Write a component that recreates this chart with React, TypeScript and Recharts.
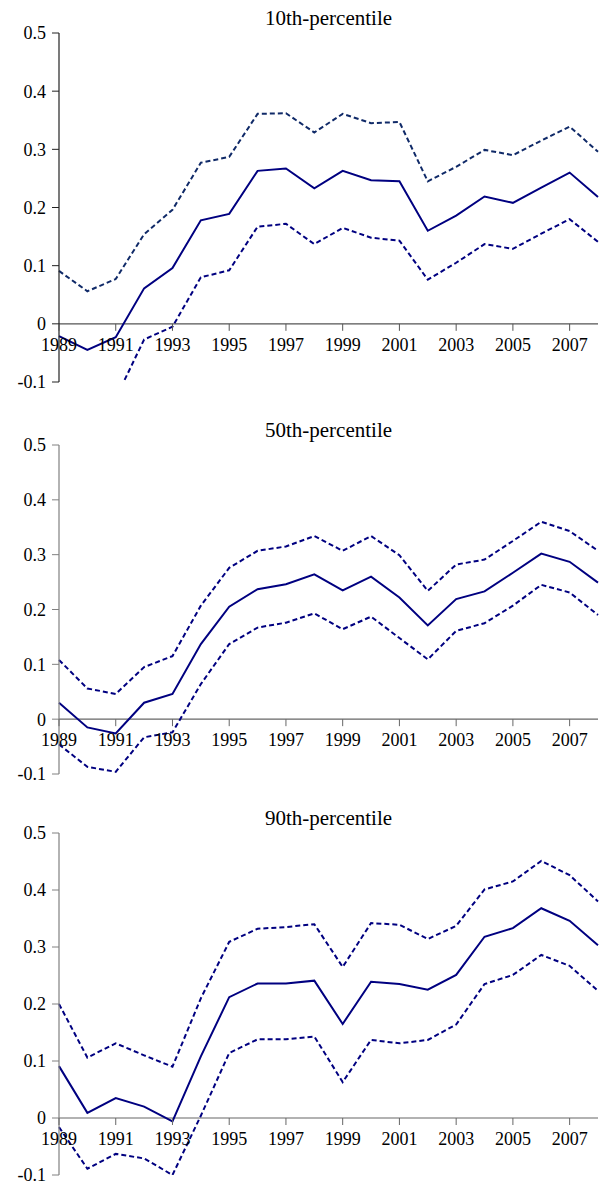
import { LineChart, Line, XAxis, YAxis, ReferenceLine, ReferenceDot } from 'recharts'

const years = [1989, 1990, 1991, 1992, 1993, 1994, 1995, 1996, 1997, 1998, 1999, 2000, 2001, 2002, 2003, 2004, 2005, 2006, 2007, 2008]
const yearTicks = [1989, 1991, 1993, 1995, 1997, 1999, 2001, 2003, 2005, 2007]
const valueTicks = [-0.1, 0, 0.1, 0.2, 0.3, 0.4, 0.5]
const titles = ['10th-percentile', '50th-percentile', '90th-percentile']

// 10th percentile
const p10Est = [-0.021, -0.045, -0.023, 0.061, 0.096, 0.178, 0.189, 0.263, 0.267, 0.233, 0.263, 0.247, 0.245, 0.16, 0.186, 0.219, 0.208, 0.234, 0.26, 0.218]
const p10Hi = [0.091, 0.056, 0.077, 0.154, 0.196, 0.277, 0.287, 0.361, 0.362, 0.329, 0.361, 0.345, 0.347, 0.245, 0.27, 0.299, 0.29, 0.315, 0.339, 0.296]
const p10Lo = [-0.133, -0.146, -0.128, -0.027, -0.005, 0.08, 0.092, 0.167, 0.172, 0.137, 0.165, 0.148, 0.143, 0.076, 0.105, 0.137, 0.129, 0.155, 0.18, 0.141]

// 50th percentile
const p50Est = [0.03, -0.015, -0.026, 0.03, 0.046, 0.137, 0.205, 0.237, 0.246, 0.264, 0.235, 0.26, 0.222, 0.171, 0.219, 0.233, 0.267, 0.302, 0.287, 0.249]
const p50Hi = [0.108, 0.056, 0.046, 0.095, 0.115, 0.207, 0.276, 0.307, 0.315, 0.334, 0.307, 0.334, 0.299, 0.234, 0.282, 0.291, 0.325, 0.36, 0.343, 0.307]
const p50Lo = [-0.046, -0.087, -0.096, -0.033, -0.024, 0.064, 0.137, 0.167, 0.176, 0.193, 0.164, 0.187, 0.148, 0.109, 0.161, 0.175, 0.207, 0.245, 0.231, 0.19]

// 90th percentile
const p90Est = [0.091, 0.009, 0.035, 0.02, -0.006, 0.108, 0.212, 0.236, 0.236, 0.241, 0.165, 0.239, 0.235, 0.225, 0.251, 0.318, 0.333, 0.368, 0.346, 0.303]
const p90Hi = [0.2, 0.106, 0.131, 0.11, 0.09, 0.21, 0.309, 0.332, 0.335, 0.34, 0.265, 0.342, 0.339, 0.314, 0.337, 0.401, 0.415, 0.451, 0.426, 0.38]
const p90Lo = [-0.016, -0.089, -0.063, -0.071, -0.1, 0.004, 0.114, 0.138, 0.138, 0.143, 0.063, 0.137, 0.131, 0.137, 0.164, 0.235, 0.251, 0.286, 0.267, 0.223]

const build = (est: number[], hi: number[], lo: number[]) =>
  years.map((year, i) => ({ year, est: est[i], hi: hi[i], lo: lo[i] }))

const panels = [
  { title: titles[0], data: build(p10Est, p10Hi, p10Lo), top: 0, height: 400, mTop: 33, mBottom: 18, hiColor: '#102a68', yAxisColor: '#222', xAxisColor: '#555' },
  { title: titles[1], data: build(p50Est, p50Hi, p50Lo), top: 400, height: 400, mTop: 45, mBottom: 26, hiColor: '#000080', yAxisColor: '#808080', xAxisColor: '#666' },
  { title: titles[2], data: build(p90Est, p90Hi, p90Lo), top: 800, height: 385, mTop: 33, mBottom: 10, hiColor: '#000080', yAxisColor: '#808080', xAxisColor: '#666' },
]

const FONT = '"Liberation Serif", "Times New Roman", serif'

const XTick = (color: string, label: number) => (props: any) => {
  const { cx, cy } = props
  return (
    <g>
      <line x1={cx} y1={cy} x2={cx} y2={cy + 7} stroke={color} strokeWidth={1} />
      <text x={cx} y={cy + 27} textAnchor='middle' fontFamily={FONT} fontSize={18} fill='#000'>
        {label}
      </text>
    </g>
  )
}

const Panel = ({ p }: { p: (typeof panels)[number] }) => (
  <div style={{ position: 'absolute', left: 0, top: p.top, width: 602, height: p.height }}>
    <div
      style={{
        position: 'absolute',
        left: 59,
        width: 539,
        top: p.mTop - 25,
        textAlign: 'center',
        fontFamily: FONT,
        fontSize: 21,
        lineHeight: '20px',
        color: '#000',
      }}
    >
      {p.title}
    </div>
    <LineChart width={602} height={p.height} data={p.data} margin={{ top: p.mTop, right: 4, bottom: p.mBottom, left: 0 }}>
      <XAxis dataKey='year' type='number' domain={[1989, 2008]} hide />
      <YAxis
        type='number'
        domain={[-0.1, 0.5]}
        ticks={valueTicks}
        interval={0}
        allowDataOverflow
        width={59}
        tickSize={7}
        tickMargin={6}
        axisLine={{ stroke: p.yAxisColor, strokeWidth: 1.2 }}
        tickLine={{ stroke: p.yAxisColor }}
        tick={{ fill: '#000', fontSize: 18, fontFamily: FONT }}
        tickFormatter={(v: number) => (v === 0 ? '0' : v.toFixed(1))}
      />
      <ReferenceLine y={0} stroke={p.xAxisColor} strokeWidth={1.2} />
      {yearTicks.map((yr) => (
        <ReferenceDot key={yr} x={yr} y={0} shape={XTick(p.xAxisColor, yr)} />
      ))}
      <Line type='linear' dataKey='hi' stroke={p.hiColor} strokeWidth={2} strokeDasharray='5 3' dot={false} isAnimationActive={false} />
      <Line type='linear' dataKey='lo' stroke='#000080' strokeWidth={2} strokeDasharray='5 3' dot={false} isAnimationActive={false} />
      <Line type='linear' dataKey='est' stroke='#000080' strokeWidth={2} dot={false} isAnimationActive={false} />
    </LineChart>
  </div>
)

export default function App() {
  return (
    <div style={{ position: 'absolute', left: 0, top: 0, width: 602, height: 1185, background: '#fff' }}>
      {panels.map((p) => (
        <Panel key={p.title} p={p} />
      ))}
    </div>
  )
}
